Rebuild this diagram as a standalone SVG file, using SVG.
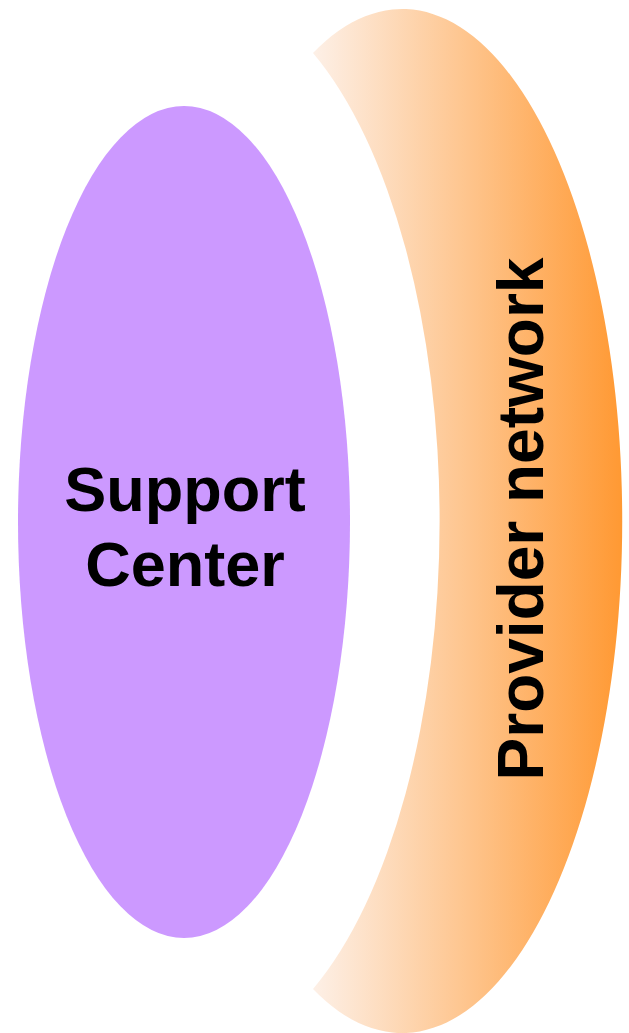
<svg xmlns="http://www.w3.org/2000/svg" width="629" height="1033" viewBox="0 0 629 1033">
<defs>
<linearGradient id="orangeGrad" gradientUnits="userSpaceOnUse" x1="313" y1="0" x2="622" y2="0">
<stop offset="0" stop-color="#fdf0e7"/>
<stop offset="1" stop-color="#ff9933"/>
</linearGradient>
<style>
.lbl{font-family:"Liberation Sans",Arial,sans-serif;font-weight:bold;font-size:63px;fill:#000000;text-anchor:middle;}
.vert{font-size:64px;}
</style>
</defs>
<rect width="629" height="1033" fill="#ffffff"/>
<g id="provider-network">
<path d="M 313 53 A 220 512 0 1 1 313 989 A 240 531 0 0 0 313 53 Z" fill="url(#orangeGrad)"/>
<text class="lbl vert" transform="translate(543 519) rotate(-90)" x="0" y="0">Provider network</text>
</g>
<g id="support-center">
<ellipse cx="184" cy="522" rx="166" ry="416" fill="#cc99ff"/>
<text class="lbl" x="185" y="511">Support</text>
<text class="lbl" x="185" y="586">Center</text>
</g>
<g id="connectors"/>
</svg>
